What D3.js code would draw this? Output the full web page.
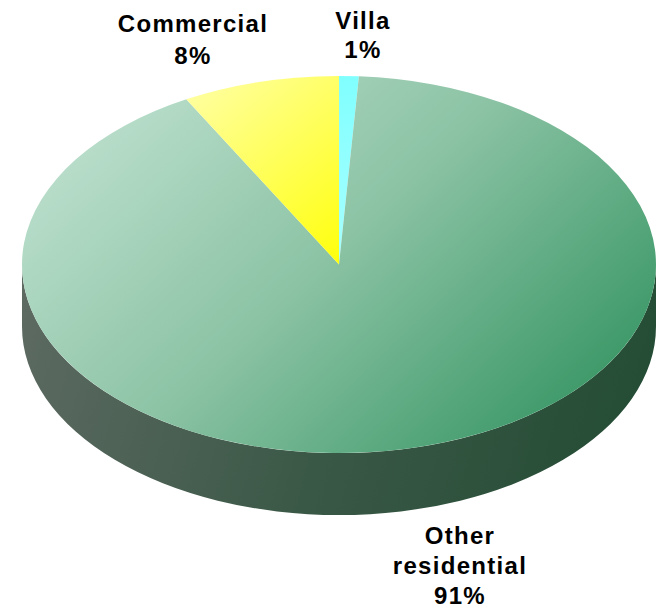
<!DOCTYPE html>
<html>
<head>
<meta charset="utf-8">
<script src="https://cdn.jsdelivr.net/npm/d3@7"></script>
<style>
  html, body { margin: 0; padding: 0; background: #ffffff; }
  svg { display: block; }
  text { font-family: Arial, "Liberation Sans", sans-serif; font-weight: bold; fill: #000; }
</style>
</head>
<body>
<svg id="chart" width="657" height="611"></svg>
<script>
// Land-use shares, drawn clockwise from 12 o'clock
const categories = ["Villa", "Other residential", "Commercial"];
const shares = [1, 91, 8];
const labelLines = [["Villa", "1%"], ["Other", "residential", "91%"], ["Commercial", "8%"]];

const W = 657, H = 611;
const cx = 339, cy = 264.5, rx = 317, ry = 188.5, depth = 62;

const svg = d3.select("#chart");
const defs = svg.append("defs");

function linGrad(id, x1, y1, x2, y2, stops, units) {
  const g = defs.append("linearGradient").attr("id", id)
    .attr("x1", x1).attr("y1", y1).attr("x2", x2).attr("y2", y2);
  if (units) g.attr("gradientUnits", units);
  stops.forEach(([o, c]) => g.append("stop").attr("offset", o).attr("stop-color", c));
}
linGrad("topGreen", 120, 70, 500, 470, [[0, "#bde0ce"], [0.5, "#8cc3a5"], [1, "#3f9a6a"]], "userSpaceOnUse");
linGrad("sideGreen", 20, 300, 656, 480, [[0, "#5d6a62"], [0.5, "#3a5846"], [1, "#224b33"]], "userSpaceOnUse");
linGrad("topYellow", 190, 90, 335, 260, [[0, "#ffffa0"], [1, "#ffff10"]], "userSpaceOnUse");
linGrad("topCyan", 335, 76, 360, 260, [[0, "#80ffff"], [1, "#a8ffff"]], "userSpaceOnUse");

const topFill = { "Villa": "url(#topCyan)", "Other residential": "url(#topGreen)", "Commercial": "url(#topYellow)" };
const sideFill = { "Villa": "#4aa0a0", "Other residential": "url(#sideGreen)", "Commercial": "#a0a020" };

const pie = d3.pie().sort(null).value(d => d.v).startAngle(0).endAngle(2 * Math.PI);
const arcs = pie(categories.map((c, i) => ({ c, v: shares[i], lines: labelLines[i] })));

// angle (clockwise from 12 o'clock) -> point on the tilted ellipse
const xS = d3.scaleLinear().domain([-1, 1]).range([cx - rx, cx + rx]);
const yS = d3.scaleLinear().domain([-1, 1]).range([cy - ry, cy + ry]);
const pt = (a, dy = 0) => [xS(Math.sin(a)), yS(-Math.cos(a)) + dy];

function sidePath(a0, a1) {
  const s = Math.max(a0, Math.PI / 2), e = Math.min(a1, 3 * Math.PI / 2);
  if (e <= s) return null;
  const p0 = pt(s), p1 = pt(e), q1 = pt(e, depth), q0 = pt(s, depth);
  const lg = (e - s) > Math.PI ? 1 : 0;
  return `M${p0}A${rx},${ry} 0 ${lg} 1 ${p1}L${q1}A${rx},${ry} 0 ${lg} 0 ${q0}Z`;
}
function topPath(a0, a1) {
  const p0 = pt(a0), p1 = pt(a1);
  const lg = (a1 - a0) > Math.PI ? 1 : 0;
  return `M${cx},${cy}L${p0}A${rx},${ry} 0 ${lg} 1 ${p1}Z`;
}

// Side walls first, then the top faces
svg.append("g").selectAll("path")
  .data(arcs.filter(d => sidePath(d.startAngle, d.endAngle)))
  .join("path")
  .attr("d", d => sidePath(d.startAngle, d.endAngle))
  .attr("fill", d => sideFill[d.data.c]);

svg.append("g").selectAll("path")
  .data(arcs)
  .join("path")
  .attr("d", d => topPath(d.startAngle, d.endAngle))
  .attr("fill", d => topFill[d.data.c]);

// Labels
const labelPos = {
  "Villa": { x: 363, y: 29, lh: 29 },
  "Commercial": { x: 193, y: 32, lh: 32 },
  "Other residential": { x: 460, y: 544, lh: 30 }
};
const lg = svg.append("g").attr("font-size", 24).attr("letter-spacing", 1.3);
arcs.forEach(d => {
  const p = labelPos[d.data.c];
  d.data.lines.forEach((line, i) => {
    lg.append("text")
      .attr("x", p.x).attr("y", p.y + i * p.lh)
      .attr("text-anchor", "middle")
      .text(line);
  });
});
</script>
</body>
</html>
